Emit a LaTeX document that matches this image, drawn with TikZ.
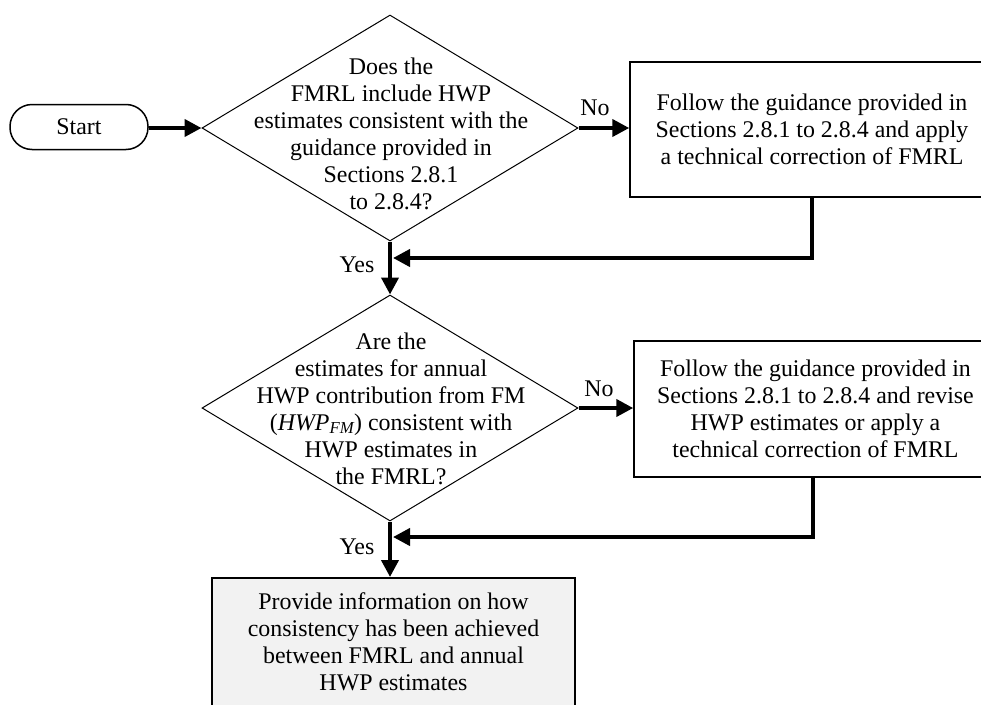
\documentclass[tikz,border=0pt]{standalone}
\usepackage{fontspec}
\setmainfont{Liberation Serif}
\usetikzlibrary{shapes.geometric,arrows.meta}
\begin{document}
\begin{tikzpicture}[x=1pt,y=-1pt,
  txt/.style={font=\fontsize{23.9}{27}\selectfont, align=center, inner sep=0pt},
  decision/.style={diamond, draw, line width=1pt, minimum width=376pt, minimum height=226pt, inner sep=0pt},
  actbox/.style={rectangle, draw, line width=1.5pt, inner sep=0pt, txt},
  startbox/.style={rectangle, draw, line width=1.5pt, rounded corners=22pt, minimum width=138pt, minimum height=45pt, inner sep=0pt, txt},
  flow/.style={line width=4pt, -{Triangle[length=17pt,width=17pt]}}]
\useasboundingbox (0,0) rectangle (981,704);
\clip (0,0) rectangle (981,704);

\node[startbox] (start) at (79,127) {Start};

\node[decision] (d1) at (390,128) {};
\node[txt] (t1) at (391,134) {Does the\\FMRL include HWP\\estimates consistent with the\\guidance provided in\\Sections 2.8.1\\to 2.8.4?};

\node[actbox, minimum width=364pt, minimum height=135pt] (b1) at (812,129.5)
  {Follow the guidance provided in\\Sections 2.8.1 to 2.8.4 and apply\\a technical correction of FMRL};

\node[decision] (d2) at (390,408) {};
\node[txt] (t2) at (391,408.5) {Are the\\estimates for annual\\HWP contribution from FM\\(\textit{HWP\textsubscript{FM}}) consistent with\\HWP estimates in\\the FMRL?};

\node[actbox, minimum width=363pt, minimum height=136pt] (b2) at (815.5,409)
  {Follow the guidance provided in\\Sections 2.8.1 to 2.8.4 and revise\\HWP estimates or apply a\\technical correction of FMRL};

\node[actbox, fill=black!5, minimum width=363pt, minimum height=150pt, anchor=north] (b3) at (393.5,577) {};
\node[txt] (t3) at (393.5,641.5) {Provide information on how\\consistency has been achieved\\between FMRL and annual\\HWP estimates};

\node[txt] (no1) at (595,108) {No};
\node[txt] (no2) at (599,389) {No};
\node[txt] (yes1) at (357,265) {Yes};
\node[txt] (yes2) at (357,547) {Yes};

\coordinate (m1) at (393,258);
\coordinate (m2) at (393,537);

\draw[flow] (start.east |- d1.west) -- (d1.west);
\draw[flow] (d1.east) -- (d1.east -| b1.west);
\draw[flow] (d1.south) -- (d2.north);
\draw[flow] (b1.south) |- (m1);
\draw[flow] (d2.east) -- (d2.east -| b2.west);
\draw[flow] (d2.south) -- (d2.south |- b3.north);
\draw[flow] ([xshift=-2.5pt]b2.south) |- (m2);
\end{tikzpicture}
\end{document}
